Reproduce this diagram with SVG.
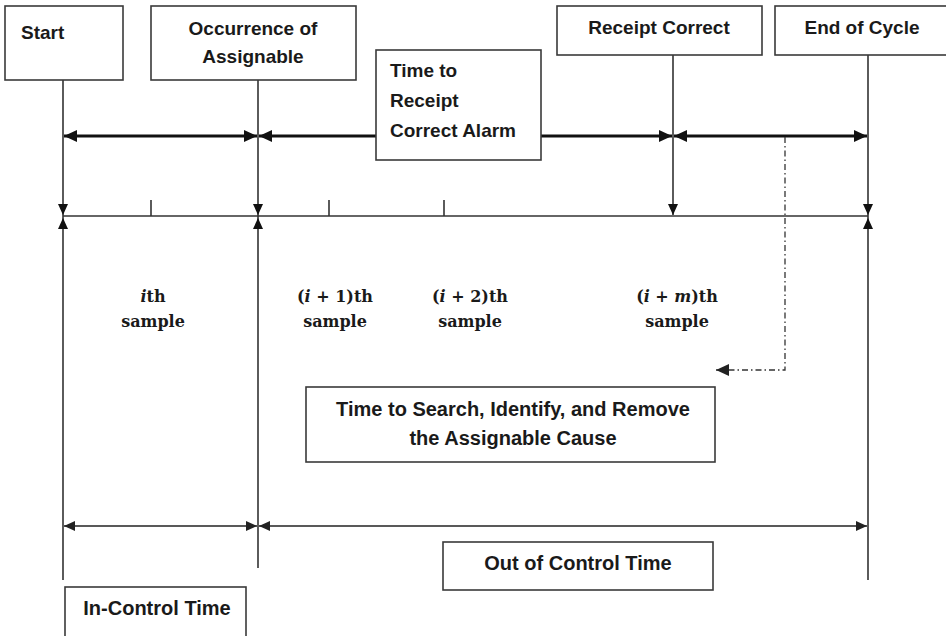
<svg xmlns="http://www.w3.org/2000/svg" width="946" height="636" viewBox="0 0 946 636">
<style>
.box{fill:#fff;stroke:#3a3a3a;stroke-width:1.6}
.lbl{font-family:"Liberation Sans",Arial,sans-serif;font-weight:bold;font-size:19px;fill:#1a1a1a}
.big{font-size:20px}
.smp{font-family:"DejaVu Serif","Liberation Serif",serif;font-weight:bold;font-size:16px;fill:#1a1a1a;text-anchor:middle}
.v{stroke:#333;stroke-width:1.6;fill:none}
.thick{stroke:#111;stroke-width:3.2;fill:none}
.thin{stroke:#222;stroke-width:1.6;fill:none}
.dd{stroke:#333;stroke-width:1.3;fill:none;stroke-dasharray:6 3 1.5 3}
</style>
<defs>
<marker id="ah" markerUnits="userSpaceOnUse" markerWidth="14" markerHeight="12" refX="13" refY="6" orient="auto-start-reverse"><path d="M0,0 L13,6 L0,12 Z" fill="#111"/></marker>
<marker id="at" markerUnits="userSpaceOnUse" markerWidth="12" markerHeight="10" refX="11" refY="5" orient="auto-start-reverse"><path d="M0,0 L11,5 L0,10 Z" fill="#222"/></marker>
<marker id="ad" markerUnits="userSpaceOnUse" markerWidth="14" markerHeight="12" refX="13" refY="6" orient="auto"><path d="M0,0 L13,6 L0,12 Z" fill="#222"/></marker>
</defs>

<g id="connectors">
<line class="v" x1="63" y1="56" x2="63" y2="580"/>
<line class="v" x1="258" y1="65" x2="258" y2="568"/>
<line class="v" x1="673" y1="55" x2="673" y2="215"/>
<line class="v" x1="868" y1="55" x2="868" y2="580"/>
<line class="v" x1="63" y1="216" x2="868" y2="216"/>
<line class="v" x1="151" y1="200" x2="151" y2="216"/>
<line class="v" x1="329" y1="200" x2="329" y2="216"/>
<line class="v" x1="444" y1="200" x2="444" y2="216"/>
<g fill="#111">
<path d="M58,204 L68,204 L63,215 Z"/><path d="M58,229 L68,229 L63,218 Z"/>
<path d="M253,204 L263,204 L258,215 Z"/><path d="M253,229 L263,229 L258,218 Z"/>
<path d="M668,204 L678,204 L673,215 Z"/>
<path d="M863,204 L873,204 L868,215 Z"/><path d="M863,229 L873,229 L868,218 Z"/>
</g>
<line class="thick" x1="64" y1="136" x2="257" y2="136" marker-start="url(#ah)" marker-end="url(#ah)"/>
<line class="thick" x1="259" y1="136" x2="672" y2="136" marker-start="url(#ah)" marker-end="url(#ah)"/>
<line class="thick" x1="674" y1="136" x2="867" y2="136" marker-start="url(#ah)" marker-end="url(#ah)"/>
<polyline class="dd" points="785,137 785,370 716,370" marker-end="url(#ad)"/>
<line class="thin" x1="64" y1="526" x2="257" y2="526" marker-start="url(#at)" marker-end="url(#at)"/>
<line class="thin" x1="259" y1="526" x2="867" y2="526" marker-start="url(#at)" marker-end="url(#at)"/>
</g>

<g id="start">
<rect class="box" x="5" y="6" width="118" height="74"/>
<text class="lbl" x="21" y="39" font-size="18">Start</text>
</g>
<g id="occurrence">
<rect class="box" x="151" y="6" width="205" height="74"/>
<text class="lbl" x="253" y="35" text-anchor="middle">Occurrence of</text>
<text class="lbl" x="253" y="63" text-anchor="middle">Assignable</text>
</g>
<g id="time-to-receipt">
<rect class="box" x="376" y="50" width="165" height="110"/>
<text class="lbl" x="390" y="77">Time to</text>
<text class="lbl" x="390" y="107">Receipt</text>
<text class="lbl" x="390" y="137">Correct Alarm</text>
</g>
<g id="receipt-correct">
<rect class="box" x="557" y="6" width="205" height="49"/>
<text class="lbl" x="659" y="34" text-anchor="middle">Receipt Correct</text>
</g>
<g id="end-of-cycle">
<rect class="box" x="775" y="6" width="175" height="49"/>
<text class="lbl" x="862" y="34" text-anchor="middle">End of Cycle</text>
</g>

<g id="samples">
<text class="smp" x="153" y="302"><tspan font-style="italic">i</tspan>th</text>
<text class="smp" x="153" y="327">sample</text>
<text class="smp" x="335" y="302">(<tspan font-style="italic">i</tspan> + 1)th</text>
<text class="smp" x="335" y="327">sample</text>
<text class="smp" x="470" y="302">(<tspan font-style="italic">i</tspan> + 2)th</text>
<text class="smp" x="470" y="327">sample</text>
<text class="smp" x="677" y="302">(<tspan font-style="italic">i</tspan> + <tspan font-style="italic">m</tspan>)th</text>
<text class="smp" x="677" y="327">sample</text>
</g>

<g id="search-box">
<rect class="box" x="306" y="387" width="409" height="75"/>
<text class="lbl big" x="513" y="416" text-anchor="middle">Time to Search, Identify, and Remove</text>
<text class="lbl big" x="513" y="445" text-anchor="middle">the Assignable Cause</text>
</g>
<g id="out-of-control">
<rect class="box" x="443" y="542" width="270" height="48"/>
<text class="lbl big" x="578" y="570" text-anchor="middle">Out of Control Time</text>
</g>
<g id="in-control">
<rect class="box" x="65" y="587" width="181" height="52"/>
<text class="lbl big" x="157" y="615" text-anchor="middle">In-Control Time</text>
</g>
</svg>
